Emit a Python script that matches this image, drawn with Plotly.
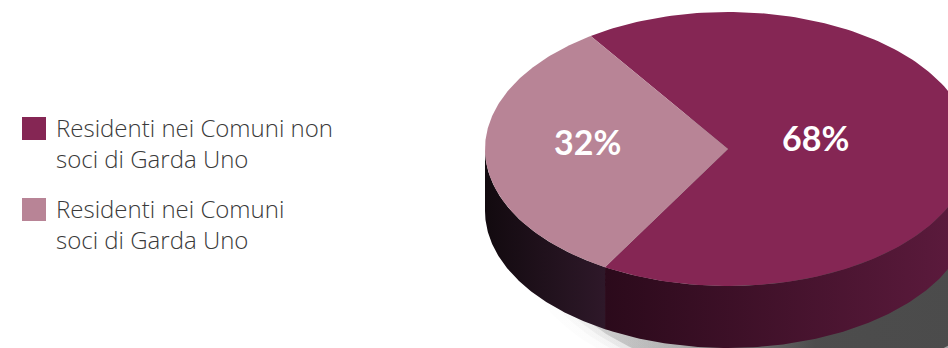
import numpy as np
import plotly.graph_objects as go

# dati
labels = ["Residenti nei Comuni non soci di Garda Uno",
          "Residenti nei Comuni soci di Garda Uno"]
legend_text = ["Residenti nei Comuni non<br>soci di Garda Uno",
               "Residenti nei Comuni<br>soci di Garda Uno"]
values = [68, 32]
top_colors = ["#852654", "#b88496"]
side_colors = [["#2b0a1b", "#5e1b3e"], ["#120a0f", "#2e1829"]]

# geometria della torta (coordinate in pixel)
cx, cy = 728, 149
rx, ry = 243, 137
depth = 62
mid_small = 182.0          # angolo centrale della fetta 32%
label_frac = [0.36, 0.58]

W, H = 948, 348


def pt(t_deg, dy=0.0, sx=1.0, sy=1.0, ox=0.0):
    t = np.radians(t_deg)
    return cx + ox + sx * rx * np.cos(t), cy + dy - sy * ry * np.sin(t)


# angoli delle fette
span = [v / sum(values) * 360 for v in values]
s1_start = mid_small - span[1] / 2
s1_end = mid_small + span[1] / 2
slices = [(s1_end, s1_start + 360), (s1_start, s1_end)]

fig = go.Figure()

# ombra
for k, (grow, op) in enumerate([(1.10, 0.10), (1.06, 0.18), (1.03, 0.35), (1.0, 1.0)]):
    t = np.linspace(0, 360, 240)
    x, y = pt(t, dy=depth + 32, sx=grow, sy=grow, ox=60)
    fig.add_trace(go.Scatter(
        x=x, y=y, mode="lines", fill="toself", line=dict(width=0),
        fillgradient=dict(type="horizontal", start=cx - rx, stop=cx + rx,
                          colorscale=[[0, "rgba(70,70,70,0)"],
                                      [0.4, f"rgba(70,70,70,{0.3*op:.3f})"],
                                      [0.68, f"rgba(72,72,72,{0.95*op:.3f})"],
                                      [1, f"rgba(75,75,75,{op:.3f})"]]),
        hoverinfo="skip", showlegend=False))

# pareti laterali (solo la metà anteriore è visibile)
for i, (a, b) in enumerate(slices):
    if i == 0:
        lo, hi = max(a, 180), 360
    else:
        lo, hi = max(a, 180), min(b, 360)
    if hi <= lo:
        continue
    t = np.linspace(lo, hi, 120)
    xt, yt = pt(t)
    xb, yb = pt(t[::-1], dy=depth)
    x = np.concatenate([xt, xb])
    y = np.concatenate([yt, yb])
    fig.add_trace(go.Scatter(
        x=x, y=y, mode="lines", fill="toself", line=dict(width=0),
        fillgradient=dict(type="horizontal", start=float(x.min()), stop=float(x.max()),
                          colorscale=[[0, side_colors[i][0]], [1, side_colors[i][1]]]),
        hoverinfo="skip", showlegend=False))

# facce superiori
for i, (a, b) in enumerate(slices):
    t = np.linspace(a, b, 200)
    xs, ys = pt(t)
    x = np.concatenate([[cx], xs, [cx]])
    y = np.concatenate([[cy], ys, [cy]])
    fig.add_trace(go.Scatter(
        x=x, y=y, mode="lines", fill="toself", line=dict(width=0),
        fillcolor=top_colors[i], hoverinfo="skip", showlegend=False))

# etichette percentuali
for i, (a, b) in enumerate(slices):
    m = (a + b) / 2
    lx, ly = pt(m, dy=-10, sx=label_frac[i], sy=label_frac[i])
    fig.add_annotation(x=lx, y=ly, text=f"{values[i]}%", showarrow=False,
                       font=dict(family="Lato", size=34, color="white", weight="bold"))

# legenda
leg_top = [117, 198]
for i in range(2):
    fig.add_shape(type="rect", x0=22, x1=46, y0=leg_top[i], y1=leg_top[i] + 23,
                  fillcolor=top_colors[i], line=dict(width=0))
    fig.add_annotation(x=54, y=leg_top[i] + 26, text=legend_text[i], showarrow=False,
                       xanchor="left", yanchor="middle", align="left",
                       font=dict(family="Open Sans", size=24, color="#3a3a3a", weight=300))

fig.update_xaxes(range=[0, W], visible=False, fixedrange=True)
fig.update_yaxes(range=[H, 0], visible=False, fixedrange=True)
fig.update_layout(
    width=W, height=H,
    margin=dict(l=0, r=0, t=0, b=0),
    paper_bgcolor="white",
    plot_bgcolor="white",
    showlegend=False,
)

fig.write_html("out.html", config={"displayModeBar": False},
               post_script="document.body.style.margin='0';")
